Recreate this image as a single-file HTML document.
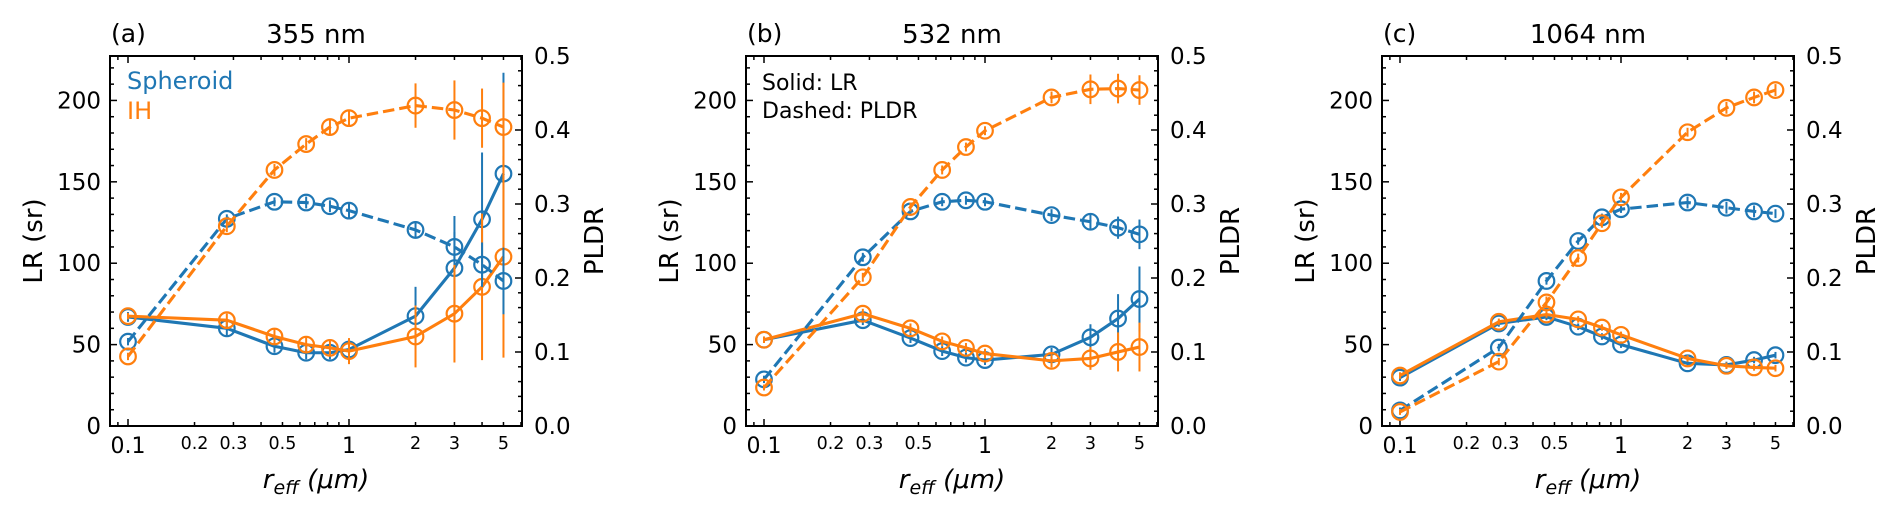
<!DOCTYPE html>
<html><head><meta charset="utf-8">
<style>
html,body{margin:0;padding:0;background:#fff;}
svg{display:block;font-family:"DejaVu Sans","Liberation Sans",sans-serif;}
</style></head>
<body>
<svg id="fig" width="1892" height="514" viewBox="0 0 1892 514" xmlns="http://www.w3.org/2000/svg"></svg>
<script>
const reff = [0.1, 0.28, 0.46, 0.64, 0.82, 1, 2, 3, 4, 5];
const panelTitles = ["355 nm", "532 nm", "1064 nm"];
const panelLetters = ["(a)", "(b)", "(c)"];
// LR (sr)
const lrSph = [
  [67, 60, 49, 45, 45, 47, 67.5, 97, 127, 155],
  [53, 65, 54, 46, 42, 40.5, 44, 54.5, 66, 78],
  [29.7, 63, 67, 61, 55, 50, 38.5, 37.5, 40.5, 43.5]
];
const lrSphErr = [
  [3, 5, 4, 4, 4, 3, 18, 32, 41, 62],
  [2, 3, 3, 3, 3, 3, 4, 8, 15, 20],
  [2, 2, 2, 2, 2, 2, 2, 2, 2, 2]
];
const lrIH = [
  [67.5, 65, 55, 50, 48, 46, 55, 69, 85.5, 104],
  [53, 69, 60, 52, 48, 44.5, 40, 41.5, 45.5, 48.5],
  [31, 64, 68.5, 65.5, 60.5, 56, 41.5, 37, 36, 35.5]
];
const lrIHErr = [
  [2, 4, 5, 5, 5, 8, 19, 30, 45, 62],
  [2, 3, 3, 3, 3, 3, 4, 7, 12, 15],
  [2, 2, 2, 2, 2, 2, 2, 2, 2, 2]
];
// PLDR
const pldrSph = [
  [0.114, 0.280, 0.303, 0.302, 0.297, 0.291, 0.265, 0.242, 0.218, 0.196],
  [0.063, 0.228, 0.290, 0.303, 0.305, 0.303, 0.285, 0.276, 0.268, 0.259],
  [0.021, 0.106, 0.196, 0.250, 0.282, 0.293, 0.302, 0.295, 0.290, 0.287]
];
const pldrSphErr = [
  [0.005, 0.006, 0.006, 0.008, 0.008, 0.01, 0.012, 0.02, 0.03, 0.045],
  [0.005, 0.006, 0.006, 0.006, 0.006, 0.006, 0.008, 0.01, 0.015, 0.02],
  [0.004, 0.005, 0.005, 0.005, 0.005, 0.005, 0.008, 0.008, 0.008, 0.006]
];
const pldrIH = [
  [0.094, 0.270, 0.346, 0.381, 0.404, 0.416, 0.433, 0.427, 0.416, 0.404],
  [0.052, 0.201, 0.296, 0.346, 0.377, 0.399, 0.444, 0.455, 0.456, 0.454],
  [0.019, 0.087, 0.167, 0.227, 0.274, 0.309, 0.397, 0.430, 0.444, 0.454]
];
const pldrIHErr = [
  [0.005, 0.008, 0.008, 0.008, 0.01, 0.01, 0.03, 0.04, 0.04, 0.06],
  [0.004, 0.006, 0.006, 0.006, 0.006, 0.006, 0.008, 0.02, 0.02, 0.02],
  [0.004, 0.005, 0.008, 0.006, 0.006, 0.006, 0.006, 0.008, 0.008, 0.008]
];
const lrTicks = [0, 50, 100, 150, 200];
const pldrTicks = ["0.0", "0.1", "0.2", "0.3", "0.4", "0.5"];
const xMajorTicks = [0.1, 1];
const xMajorLabels = ["0.1", "1"];
const xMinorLabeled = [0.2, 0.3, 0.5, 2, 3, 5];
const xMinorLabels = ["0.2", "0.3", "0.5", "2", "3", "5"];

const NS = "http://www.w3.org/2000/svg";
const svg = document.getElementById("fig");
const BLUE = "#1f77b4", ORANGE = "#ff7f0e";
const panelLefts = [110, 746, 1382];
const PW = 412, TOP = 56, BOT = 426;
const LRMAX = 227.3, PMAX = 0.5;
const LXMIN = Math.log10(0.1) - 18 / 221, LXMAX = LXMIN + PW / 221;

function mk(tag, attrs, parent) {
  const e = document.createElementNS(NS, tag);
  for (const k in attrs) e.setAttribute(k, attrs[k]);
  (parent || svg).appendChild(e);
  return e;
}
function txt(s, attrs, parent) { const t = mk("text", attrs, parent); t.textContent = s; return t; }

panelLefts.forEach((L, p) => {
  const R = L + PW;
  const g = mk("g", {});
  
  
  const xs = v => L + (Math.log10(v) - LXMIN) / (LXMAX - LXMIN) * PW;
  const yL = v => BOT - v / LRMAX * (BOT - TOP);
  const yP = v => BOT - v / PMAX * (BOT - TOP);

  const fr = mk("rect", {x: L, y: TOP, width: PW, height: BOT - TOP, fill: "none", stroke: "#000", "stroke-width": 2}, g);
  
  

  for (let d = -2; d <= 1; d++) for (let m = 1; m <= 9; m++) {
    const v = m * Math.pow(10, d);
    const lv = Math.log10(v);
    if (lv < LXMIN || lv > LXMAX) continue;
    const x = xs(v), len = (m === 1) ? 7 : 4;
    mk("line", {x1: x, x2: x, y1: BOT, y2: BOT - len, stroke: "#000", "stroke-width": 1.5}, g);
    mk("line", {x1: x, x2: x, y1: TOP, y2: TOP + len, stroke: "#000", "stroke-width": 1.5}, g);
  }
  xMajorTicks.forEach((v, i) => {
    const t = txt(xMajorLabels[i], {x: xs(v), y: 453, "font-size": 22, "text-anchor": "middle"}, g);
    
    
  });
  xMinorLabeled.forEach((v, i) => {
    const t = txt(xMinorLabels[i], {x: xs(v), y: 449, "font-size": 17.5, "text-anchor": "middle"}, g);
    
    
  });

  for (let v = 0; v <= 220; v += 10) {
    const y = yL(v), len = v % 50 === 0 ? 7 : 4;
    mk("line", {x1: L, x2: L + len, y1: y, y2: y, stroke: "#000", "stroke-width": 1.5}, g);
  }
  lrTicks.forEach(v => {
    const t = txt(String(v), {x: L - 9, y: yL(v) + 8, "font-size": 23, "text-anchor": "end"}, g);
    
    
  });
  for (let k = 0; k <= 25; k++) {
    const v = k * 0.02, y = yP(v), len = (k % 5 === 0) ? 7 : 4;
    mk("line", {x1: R, x2: R - len, y1: y, y2: y, stroke: "#000", "stroke-width": 1.5}, g);
  }
  pldrTicks.forEach(s => {
    const t = txt(s, {x: R + 12, y: yP(parseFloat(s)) + 8, "font-size": 23}, g);
    
    
  });

  const ly = txt("LR (sr)", {transform: `translate(${L - 68},${(TOP + BOT) / 2}) rotate(-90)`, "font-size": 26, "text-anchor": "middle"}, g);
  
  
  const ry = txt("PLDR", {transform: `translate(${R + 81},${(TOP + BOT) / 2}) rotate(-90)`, "font-size": 26, "text-anchor": "middle"}, g);
  
  
  const xl = mk("text", {x: L + PW / 2, y: 488, "font-size": 26, "text-anchor": "middle", "font-style": "italic"}, g);
  
  
  xl.innerHTML = 'r<tspan font-size="19" dy="6">eff</tspan><tspan dy="-6"> (μm)</tspan>';
  const ti = txt(panelTitles[p], {x: L + PW / 2, y: 43, "font-size": 26, "text-anchor": "middle"}, g);
  
  
  const le = txt(panelLetters[p], {x: L + 1, y: 42, "font-size": 25}, g);
  
  

  function series(vals, errs, ys, color, dashed, name) {
    const sg = mk("g", {}, g);
    
    
    const pts = reff.map((x, i) => xs(x) + "," + ys(vals[i])).join(" ");
    const pl = mk("polyline", {points: pts, fill: "none", stroke: color, "stroke-width": 3.1, "stroke-linejoin": "round"}, sg);
    if (dashed) pl.setAttribute("stroke-dasharray", "11.5,5");
    
    
    reff.forEach((x, i) => {
      const e = mk("line", {x1: xs(x), x2: xs(x), y1: ys(vals[i] - errs[i]), y2: ys(vals[i] + errs[i]), stroke: color, "stroke-width": 2}, sg);
      
      
      const c = mk("circle", {cx: xs(x), cy: ys(vals[i]), r: 7.8, fill: "none", stroke: color, "stroke-width": 2.2}, sg);
      
      
    });
  }
  series(lrSph[p], lrSphErr[p], yL, BLUE, false, "spheroid-lr");
  series(lrIH[p], lrIHErr[p], yL, ORANGE, false, "ih-lr");
  series(pldrSph[p], pldrSphErr[p], yP, BLUE, true, "spheroid-pldr");
  series(pldrIH[p], pldrIHErr[p], yP, ORANGE, true, "ih-pldr");

  if (p === 0) {
    const a = txt("Spheroid", {x: L + 17, y: 89, "font-size": 24, fill: BLUE}, g);
    
    
    const b = txt("IH", {x: L + 17, y: 119, "font-size": 24, fill: ORANGE}, g);
    
    
  }
  if (p === 1) {
    const a = txt("Solid: LR", {x: L + 16, y: 90, "font-size": 22}, g);
    
    
    const b = txt("Dashed: PLDR", {x: L + 16, y: 118, "font-size": 22}, g);
    
    
  }
});
</script>
</body></html>
